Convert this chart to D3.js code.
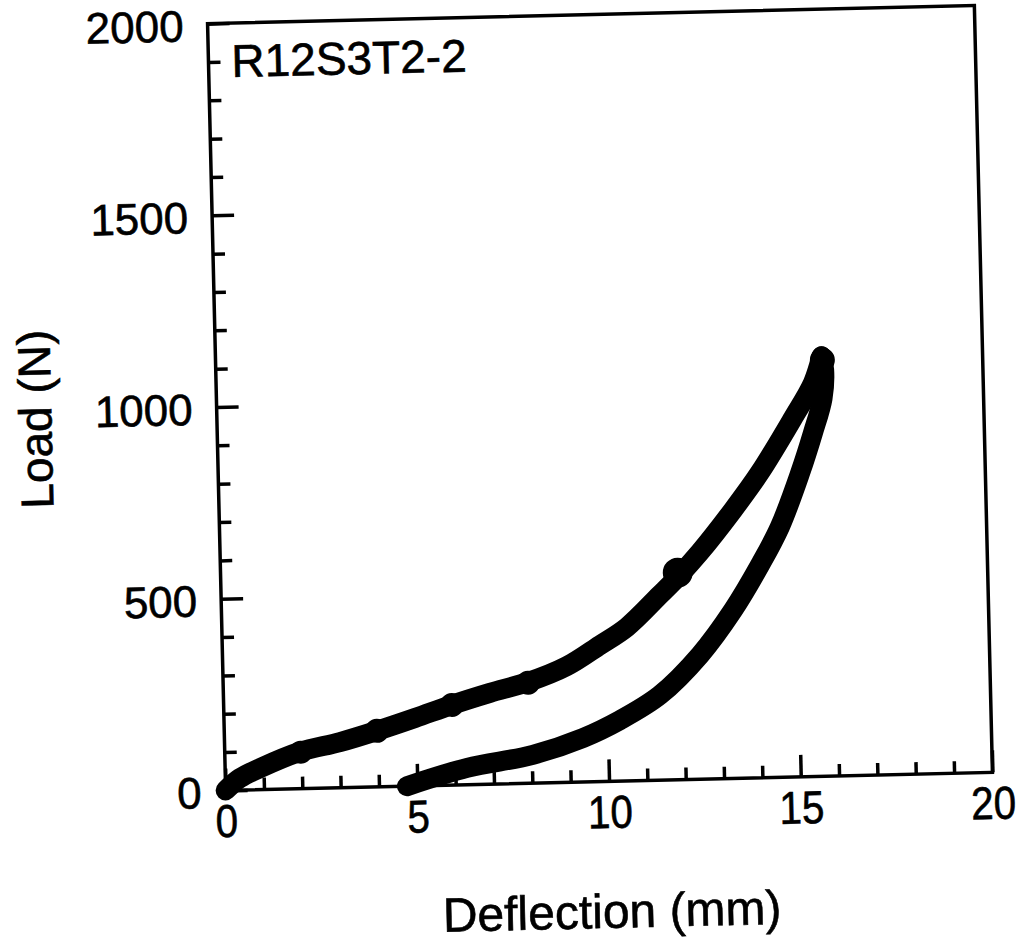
<!DOCTYPE html>
<html>
<head>
<meta charset="utf-8">
<script src="https://cdn.jsdelivr.net/npm/d3@7"></script>
<style>
  html, body { margin: 0; padding: 0; background: #fff; }
  svg { display: block; }
  text { font-family: "Liberation Sans", Arial, Helvetica, sans-serif; fill: #000; stroke: #000; stroke-width: 0.6px; }
</style>
</head>
<body>
<svg id="chart" width="1027" height="941"></svg>
<script>
// ---- data ----
const chartLabel = "R12S3T2-2";
const xTitle = "Deflection (mm)";
const yTitle = "Load (N)";
const xMajorTicks = [0, 5, 10, 15, 20];
const xMinorTicks = [1, 2, 3, 4, 6, 7, 8, 9, 11, 12, 13, 14, 16, 17, 18, 19];
const yMajorTicks = [0, 500, 1000, 1500, 2000];
const yMinorTicks = [100, 200, 300, 400, 600, 700, 800, 900, 1100, 1200, 1300, 1400, 1600, 1700, 1800, 1900];

// loading branch: deflection (mm), load (N)
const loadDeflection = [0, 0.38, 0.91, 1.96, 3.01, 3.98, 4.98, 5.95, 6.95, 7.95, 8.97, 9.85, 10.56, 11.44, 11.92, 12.51, 13.4, 14.13, 15.02, 15.56, 15.8];
const loadForce      = [0, 31, 56, 96, 119, 146, 177, 209, 238, 264, 303, 356, 401, 483, 529, 592, 700, 797, 936, 1026, 1095];
// unloading branch
const unloadDeflection = [15.8, 15.86, 15.8, 15.53, 15.17, 14.61, 14.07, 13.34, 12.45, 11.38, 10.32, 9.35, 8.03, 6.31, 4.73];
const unloadForce      = [1095, 1060, 985, 896, 792, 653, 555, 439, 324, 222, 159, 115, 74, 44, 0];
// small blobs along the loading branch (hold points)
const blobDeflection = [1.98, 3.98, 5.95, 7.95, 11.92, 15.82];
const blobForce      = [95, 146, 209, 262, 540, 1085];
const blobSize       = [11.5, 12, 12, 12, 15, 12.5];

// ---- layout ----
const L = 216.5, T = 14.5, W = 767, H = 767;
const svg = d3.select("#chart");
const g = svg.append("g").attr("transform", "rotate(-1.35, 600, 398)");

const x = d3.scaleLinear().domain([0, 20]).range([L, L + W]);
const y = d3.scaleLinear().domain([0, 2000]).range([T + H, T]);

// frame
g.append("rect").attr("x", L).attr("y", T).attr("width", W).attr("height", H)
  .attr("fill", "none").attr("stroke", "#000").attr("stroke-width", 3.5);

function styleAxis(sel) {
  sel.select(".domain").remove();
  sel.selectAll(".tick line").attr("stroke", "#000").attr("stroke-width", 3.5);
}

// x axis minor/major ticks (inward)
g.append("g").attr("transform", `translate(0,${T + H})`)
  .call(d3.axisBottom(x).tickValues(xMinorTicks).tickSize(-12).tickFormat(""))
  .call(styleAxis);
const xAx = g.append("g").attr("transform", `translate(0,${T + H})`)
  .call(d3.axisBottom(x).tickValues(xMajorTicks).tickSize(-22).tickPadding(14).tickFormat(d3.format("d")))
  .call(styleAxis);
xAx.selectAll(".tick text").attr("font-size", 46).attr("transform", "scale(0.88,1)")
  .attr("fill", "#000").style("font-family", "'Liberation Sans', Arial, sans-serif");

// y axis
g.append("g").attr("transform", `translate(${L},0)`)
  .call(d3.axisLeft(y).tickValues(yMinorTicks).tickSize(-12).tickFormat(""))
  .call(styleAxis);
const yAx = g.append("g").attr("transform", `translate(${L},0)`)
  .call(d3.axisLeft(y).tickValues(yMajorTicks).tickSize(-22).tickPadding(24).tickFormat(d3.format("d")))
  .call(styleAxis);
yAx.selectAll(".tick text").attr("font-size", 44).attr("dy", "0.38em").attr("fill", "#000")
  .style("font-family", "'Liberation Sans', Arial, sans-serif");

// data curves
const line = d3.line().x(d => x(d[0])).y(d => y(d[1])).curve(d3.curveCatmullRom.alpha(0.5));
const loading = loadDeflection.map((d, i) => [d, loadForce[i]]);
const unloading = unloadDeflection.map((d, i) => [d, unloadForce[i]]);
[loading, unloading].forEach(pts => {
  g.append("path").datum(pts).attr("d", line)
    .attr("fill", "none").attr("stroke", "#000").attr("stroke-width", 20)
    .attr("stroke-linecap", "round").attr("stroke-linejoin", "round");
});
g.selectAll("circle.blob").data(blobDeflection.map((d, i) => [d, blobForce[i], blobSize[i]]))
  .enter().append("circle").attr("class", "blob")
  .attr("cx", d => x(d[0])).attr("cy", d => y(d[1])).attr("r", d => d[2]).attr("fill", "#000");

// label inside plot
g.append("text").attr("x", L + 23).attr("y", T + 54).attr("font-size", 46).text(chartLabel);

// axis titles
g.append("text").attr("x", x(10)).attr("y", 928).attr("text-anchor", "middle")
  .attr("font-size", 48).text(xTitle);
g.append("text").attr("transform", `translate(51,${T + H / 2 + 8}) rotate(-90)`)
  .attr("text-anchor", "middle").attr("font-size", 46).text(yTitle);
</script>
</body>
</html>
